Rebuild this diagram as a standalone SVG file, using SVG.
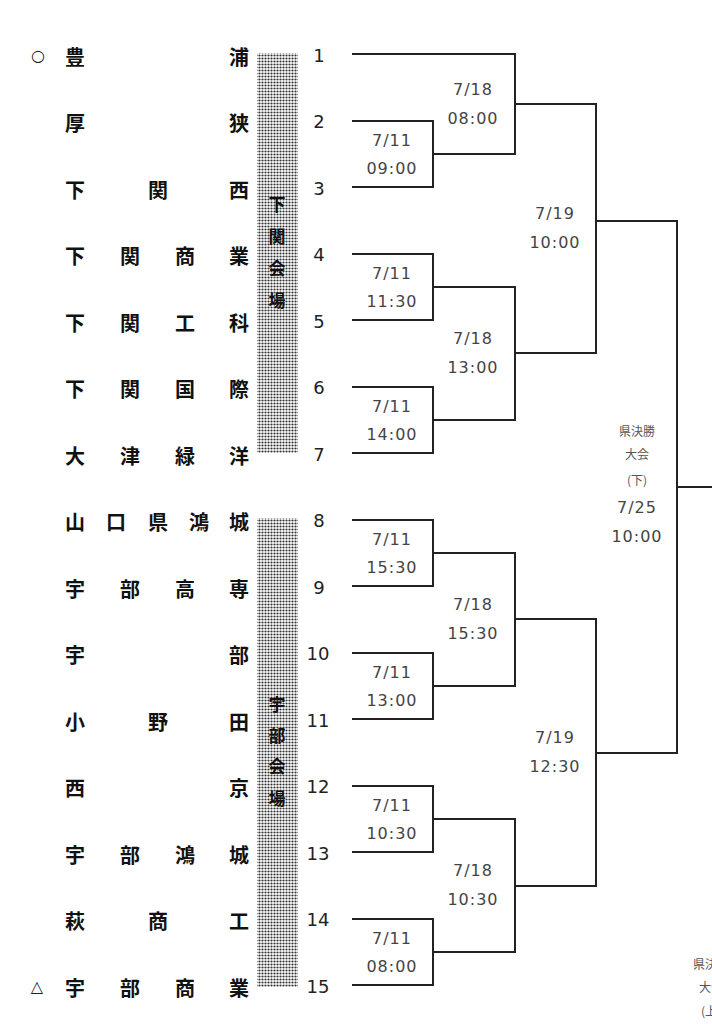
<svg xmlns="http://www.w3.org/2000/svg" width="712" height="1024" viewBox="0 0 712 1024">
<defs>
<pattern id="dots" width="3" height="3" patternUnits="userSpaceOnUse">
<rect width="3" height="3" fill="#fff"/>
<circle cx="1.5" cy="1.5" r="1.1" fill="#333"/>
</pattern>
<style>
.nm{font-family:"Noto Sans CJK JP","Noto Sans CJK SC",sans-serif;font-size:20px;font-weight:bold;fill:#111;text-anchor:middle;dominant-baseline:central}
.vt{font-family:"Noto Sans CJK JP","Noto Sans CJK SC",sans-serif;font-size:17px;font-weight:bold;fill:#111;text-anchor:middle;dominant-baseline:central}
.sym{font-family:"DejaVu Sans",sans-serif;font-size:16px;fill:#222;text-anchor:middle;dominant-baseline:central}
.no{font-family:"DejaVu Sans",sans-serif;font-size:18px;fill:#222;text-anchor:middle;dominant-baseline:central}
.dt{font-family:"DejaVu Sans",sans-serif;font-size:16px;letter-spacing:1px;fill:#444;text-anchor:middle;dominant-baseline:central}
.sm{font-family:"Noto Sans CJK JP","Noto Sans CJK SC",sans-serif;font-size:12px;fill:#555;text-anchor:middle;dominant-baseline:central}
.ln{fill:none;stroke:#222;stroke-width:2}
</style>
</defs>
<rect width="712" height="1024" fill="#fff"/>

<g id="venues">
<rect x="257" y="53" width="41" height="400" fill="url(#dots)"/>
<rect x="257" y="518" width="41" height="469" fill="url(#dots)"/>
<g id="venue-shimonoseki">
<text class="vt" x="277" y="203">下</text>
<text class="vt" x="277" y="235">関</text>
<text class="vt" x="277" y="267">会</text>
<text class="vt" x="277" y="299">場</text>
</g>
<g id="venue-ube">
<text class="vt" x="277" y="703">宇</text>
<text class="vt" x="277" y="734">部</text>
<text class="vt" x="277" y="765">会</text>
<text class="vt" x="277" y="797">場</text>
</g>
</g>

<g id="team1"><text class="sym" x="38" y="55">○</text><text class="nm" x="75" y="56">豊</text><text class="nm" x="239" y="56">浦</text><text class="no" x="319" y="55">1</text></g>
<g id="team2"><text class="nm" x="75" y="122">厚</text><text class="nm" x="239" y="122">狭</text><text class="no" x="319" y="121">2</text></g>
<g id="team3"><text class="nm" x="75" y="189">下</text><text class="nm" x="158" y="189">関</text><text class="nm" x="239" y="189">西</text><text class="no" x="319" y="188">3</text></g>
<g id="team4"><text class="nm" x="75" y="255">下</text><text class="nm" x="130" y="255">関</text><text class="nm" x="185" y="255">商</text><text class="nm" x="239" y="255">業</text><text class="no" x="319" y="254">4</text></g>
<g id="team5"><text class="nm" x="75" y="322">下</text><text class="nm" x="130" y="322">関</text><text class="nm" x="185" y="322">工</text><text class="nm" x="239" y="322">科</text><text class="no" x="319" y="321">5</text></g>
<g id="team6"><text class="nm" x="75" y="388">下</text><text class="nm" x="130" y="388">関</text><text class="nm" x="185" y="388">国</text><text class="nm" x="239" y="388">際</text><text class="no" x="319" y="387">6</text></g>
<g id="team7"><text class="nm" x="75" y="455">大</text><text class="nm" x="130" y="455">津</text><text class="nm" x="185" y="455">緑</text><text class="nm" x="239" y="455">洋</text><text class="no" x="319" y="454">7</text></g>
<g id="team8"><text class="nm" x="75" y="521">山</text><text class="nm" x="116" y="521">口</text><text class="nm" x="158" y="521">県</text><text class="nm" x="199" y="521">鴻</text><text class="nm" x="239" y="521">城</text><text class="no" x="319" y="520">8</text></g>
<g id="team9"><text class="nm" x="75" y="588">宇</text><text class="nm" x="130" y="588">部</text><text class="nm" x="185" y="588">高</text><text class="nm" x="239" y="588">専</text><text class="no" x="319" y="587">9</text></g>
<g id="team10"><text class="nm" x="75" y="654">宇</text><text class="nm" x="239" y="654">部</text><text class="no" x="318" y="653">10</text></g>
<g id="team11"><text class="nm" x="75" y="721">小</text><text class="nm" x="158" y="721">野</text><text class="nm" x="239" y="721">田</text><text class="no" x="318" y="720">11</text></g>
<g id="team12"><text class="nm" x="75" y="787">西</text><text class="nm" x="239" y="787">京</text><text class="no" x="318" y="786">12</text></g>
<g id="team13"><text class="nm" x="75" y="854">宇</text><text class="nm" x="130" y="854">部</text><text class="nm" x="185" y="854">鴻</text><text class="nm" x="239" y="854">城</text><text class="no" x="318" y="853">13</text></g>
<g id="team14"><text class="nm" x="75" y="920">萩</text><text class="nm" x="158" y="920">商</text><text class="nm" x="239" y="920">工</text><text class="no" x="318" y="919">14</text></g>
<g id="team15"><text class="sym" x="37" y="986">△</text><text class="nm" x="75" y="987">宇</text><text class="nm" x="130" y="987">部</text><text class="nm" x="185" y="987">商</text><text class="nm" x="239" y="987">業</text><text class="no" x="318" y="986">15</text></g>

<g id="connectors">
<path class="ln" d="M352,54 H515 V154 H433"/>
<path class="ln" d="M352,121 H433 V187 H352"/>
<path class="ln" d="M352,254 H433 V320 H352 M433,287 H515 V420 H433"/>
<path class="ln" d="M352,387 H433 V453 H352"/>
<path class="ln" d="M515,104 H596 V353 H515"/>
<path class="ln" d="M596,221 H677 V753 H596"/>
<path class="ln" d="M677,487 H712"/>
<path class="ln" d="M352,520 H433 V586 H352 M433,553 H515 V686 H433"/>
<path class="ln" d="M352,653 H433 V719 H352"/>
<path class="ln" d="M352,786 H433 V852 H352 M433,819 H515 V952 H433"/>
<path class="ln" d="M352,919 H433 V985 H352"/>
<path class="ln" d="M515,619 H596 V886 H515"/>
</g>

<g id="labels">
<text class="dt" x="392" y="140">7/11</text><text class="dt" x="392" y="168">09:00</text>
<text class="dt" x="392" y="273">7/11</text><text class="dt" x="392" y="301">11:30</text>
<text class="dt" x="392" y="406">7/11</text><text class="dt" x="392" y="434">14:00</text>
<text class="dt" x="392" y="539">7/11</text><text class="dt" x="392" y="567">15:30</text>
<text class="dt" x="392" y="672">7/11</text><text class="dt" x="392" y="700">13:00</text>
<text class="dt" x="392" y="805">7/11</text><text class="dt" x="392" y="833">10:30</text>
<text class="dt" x="392" y="938">7/11</text><text class="dt" x="392" y="966">08:00</text>
<text class="dt" x="473" y="89">7/18</text><text class="dt" x="473" y="118">08:00</text>
<text class="dt" x="473" y="338">7/18</text><text class="dt" x="473" y="367">13:00</text>
<text class="dt" x="473" y="604">7/18</text><text class="dt" x="473" y="633">15:30</text>
<text class="dt" x="473" y="870">7/18</text><text class="dt" x="473" y="899">10:30</text>
<text class="dt" x="555" y="213">7/19</text><text class="dt" x="555" y="242">10:00</text>
<text class="dt" x="555" y="737">7/19</text><text class="dt" x="555" y="766">12:30</text>
<text class="sm" x="637" y="430">県決勝</text>
<text class="sm" x="637" y="453">大会</text>
<text class="sm" x="637" y="479">(下)</text>
<text class="dt" x="637" y="507">7/25</text>
<text class="dt" x="637" y="536">10:00</text>
<text class="sm" x="711" y="963">県決勝</text>
<text class="sm" x="711" y="986">大会</text>
<text class="sm" x="711" y="1010">(上)</text>
</g>
</svg>
